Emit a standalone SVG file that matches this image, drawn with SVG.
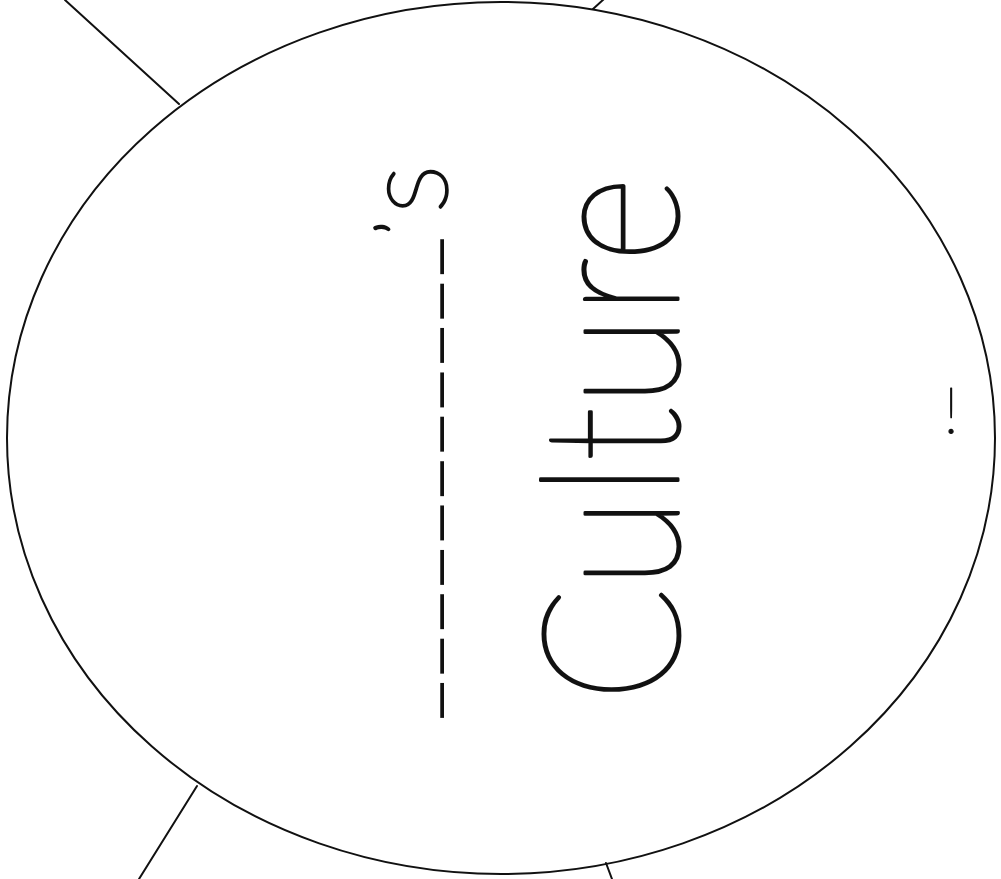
<svg xmlns="http://www.w3.org/2000/svg" width="1001" height="879" viewBox="0 0 1001 879">
<style>
.ln{fill:none;stroke:#111;stroke-width:2;stroke-linecap:round}
.thin{font-family:Lato,"Noto Sans",sans-serif;font-weight:200;fill:#111;stroke:#111;stroke-linejoin:round}
.us{font-family:"Liberation Sans",Arial,sans-serif;fill:#111}
</style>
<rect width="1001" height="879" fill="#fff"/>
<g id="connectors">
<line class="ln" x1="65" y1="0" x2="179" y2="104"/>
<line class="ln" x1="604" y1="-1" x2="593" y2="9"/>
<line class="ln" x1="197" y1="786" x2="139" y2="879"/>
<line class="ln" x1="606" y1="863" x2="612" y2="879"/>
</g>
<g id="center">
<ellipse class="ln" cx="501" cy="438" rx="494" ry="436"/>
<text transform="translate(432,717) rotate(-90)"><tspan class="us" x="0" y="0" font-size="60" letter-spacing="11">___________</tspan><tspan class="thin" x="483" y="-12" font-size="60" stroke-width="3.5">’</tspan><tspan class="thin" x="503" y="15" font-size="118" stroke-width="2.5">s</tspan></text>
<text class="thin" transform="translate(678,702) rotate(-90)" font-size="191" stroke-width="3" textLength="526" lengthAdjust="spacingAndGlyphs">Culture</text>
<text class="thin" x="951" y="433" font-size="63" stroke-width="1.2" text-anchor="middle">!</text>
</g>
</svg>
